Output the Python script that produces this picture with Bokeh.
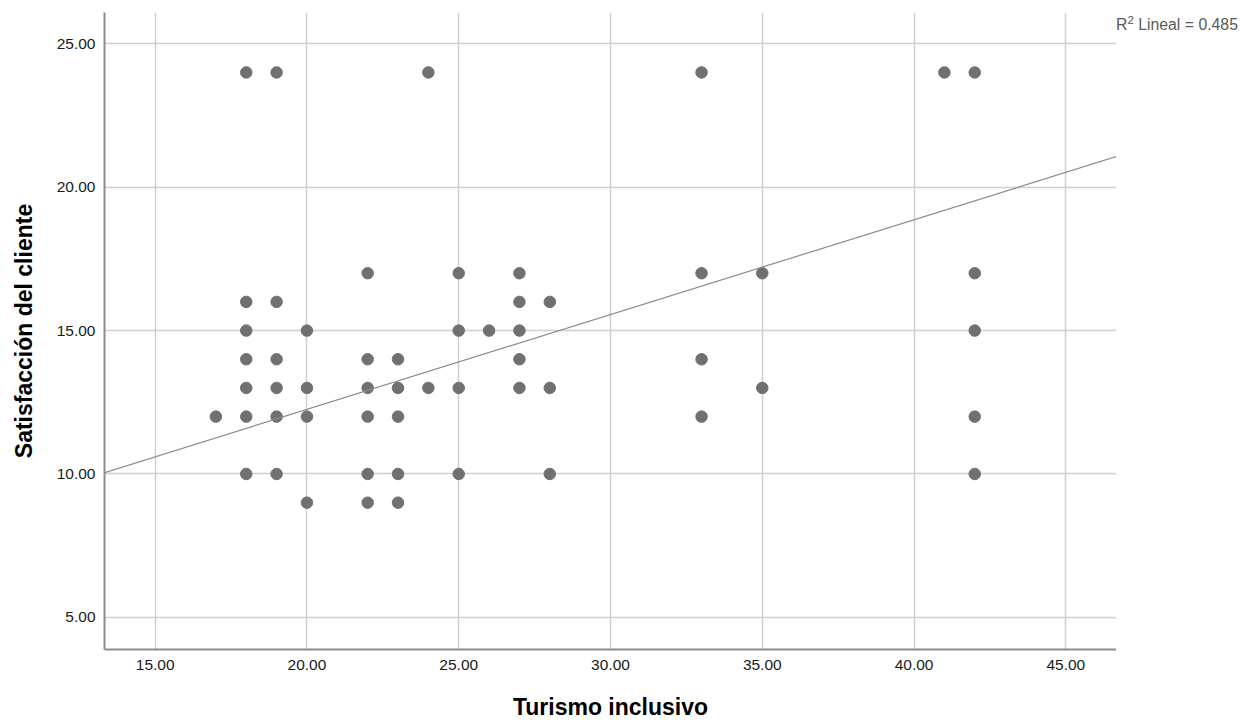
from bokeh.plotting import figure
from bokeh.models import Range1d, FixedTicker, PrintfTickFormatter, Slope, Div
from bokeh.layouts import row
from bokeh.embed import file_html
from bokeh.resources import INLINE

# Data (Turismo inclusivo vs Satisfacción del cliente)
turismo_inclusivo = [
    17,
    18, 18, 18, 18, 18, 18, 18,
    19, 19, 19, 19, 19, 19,
    20, 20, 20, 20,
    22, 22, 22, 22, 22, 22,
    23, 23, 23, 23, 23,
    24, 24,
    25, 25, 25, 25,
    26,
    27, 27, 27, 27, 27,
    28, 28, 28,
    33, 33, 33, 33,
    35, 35,
    41,
    42, 42, 42, 42, 42,
]
satisfaccion_cliente = [
    12,
    24, 16, 15, 14, 13, 12, 10,
    24, 16, 14, 13, 12, 10,
    15, 13, 12, 9,
    17, 14, 13, 12, 10, 9,
    14, 13, 12, 10, 9,
    24, 13,
    17, 15, 13, 10,
    15,
    17, 16, 15, 14, 13,
    16, 13, 10,
    24, 17, 14, 12,
    17, 13,
    24,
    24, 17, 15, 12, 10,
]
x_ticks = [15, 20, 25, 30, 35, 40, 45]
y_ticks = [5, 10, 15, 20, 25]
x_lo, x_hi = 13.33, 46.67
y_lo, y_hi = 3.88, 26.09
fit_slope = 0.3306
fit_intercept = 5.64
r2_value = "0.485"

FONT = "Liberation Sans"

p = figure(
    width=1116, height=722,
    output_backend="svg", toolbar_location=None,
    x_range=Range1d(x_lo, x_hi), y_range=Range1d(y_lo, y_hi),
    min_border_left=104, min_border_right=0,
    min_border_top=12, min_border_bottom=73,
)
p.outline_line_color = None
p.background_fill_color = "white"
p.border_fill_color = "white"

for ax in (p.xaxis[0], p.yaxis[0]):
    ax.axis_line_color = "#8c8c8c"
    ax.axis_line_width = 2
    ax.major_tick_line_color = None
    ax.minor_tick_line_color = None
    ax.major_label_text_font = FONT
    ax.major_label_text_font_size = "15.5px"
    ax.major_label_text_color = "#1a1a1a"
    ax.axis_label_text_font = FONT
    ax.axis_label_text_font_size = "23px"
    ax.axis_label_text_font_style = "bold"
    ax.axis_label_text_color = "#000000"
    ax.formatter = PrintfTickFormatter(format="%.2f")

p.xaxis.ticker = FixedTicker(ticks=x_ticks)
p.yaxis.ticker = FixedTicker(ticks=y_ticks)
p.xaxis.axis_label = "Turismo inclusivo"
p.yaxis.axis_label = "Satisfacción del cliente"
p.xaxis.major_label_standoff = 4
p.yaxis.major_label_standoff = 3
p.xaxis.axis_label_standoff = 21
p.yaxis.axis_label_standoff = 17

for g in (p.xgrid[0], p.ygrid[0]):
    g.grid_line_color = "#cfcfcf"
    g.grid_line_width = 1.5
p.xgrid.ticker = FixedTicker(ticks=x_ticks)
p.ygrid.ticker = FixedTicker(ticks=y_ticks)

p.add_layout(Slope(gradient=fit_slope, y_intercept=fit_intercept,
                   line_color="#8a8a8a", line_width=1.2))

p.scatter(turismo_inclusivo, satisfaccion_cliente, size=11.5,
          fill_color="#707070", line_color="#707070")

note = Div(
    text=('<div style="padding-top:16px;font-family:\'Liberation Sans\';font-size:15.8px;'
          'line-height:18px;color:#5a5a5a;white-space:nowrap;">'
          'R<sup style="font-size:11.5px;line-height:0;">2</sup> Lineal = ' + r2_value + '</div>'),
    width=127, height=60, margin=(0, 0, 0, 0),
)

layout = row(p, note)
open("out.html", "w").write(file_html(layout, INLINE))
